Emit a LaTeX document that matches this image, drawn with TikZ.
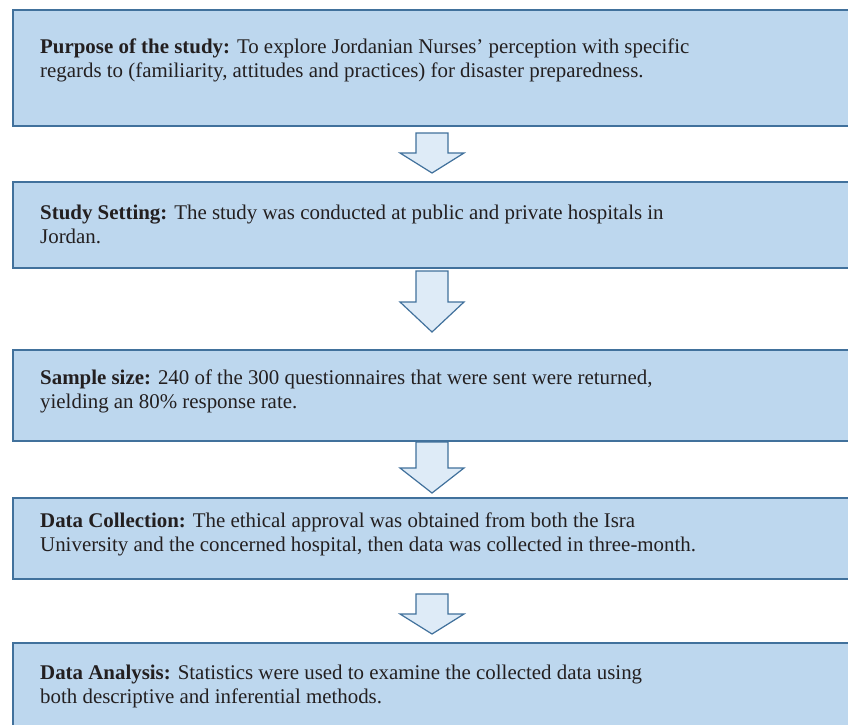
\documentclass[tikz,border=0pt]{standalone}
\usepackage{fontspec}
\setmainfont{Liberation Serif}
\definecolor{boxfill}{HTML}{BDD7EE}
\definecolor{boxline}{HTML}{41719C}
\definecolor{arrfill}{HTML}{DEEBF7}
\definecolor{txtcol}{HTML}{231F20}
\tikzset{
  stagebox/.style={draw=boxline, fill=boxfill, line width=1.5pt, rectangle, inner sep=0pt, anchor=north west, minimum width=845pt},
  stagetext/.style={text=txtcol, align=left, anchor=west, inner sep=0pt, font=\fontsize{20.9}{24}\selectfont},
  blockarrow/.style={draw=boxline, fill=arrfill, line width=1.2pt, line join=miter}
}
% #1 top y, #2 shoulder y, #3 tip y
\newcommand\downblockarrow[3]{%
  \draw[blockarrow] (416,#1) -- (448,#1) -- (448,#2) -- (464,#2) -- (432,#3) -- (400,#2) -- (416,#2) -- cycle;}
\begin{document}
\begin{tikzpicture}[x=1pt,y=-1pt]
\useasboundingbox (0,0) rectangle (848,724);
\clip (0,0) rectangle (848,724);
\fill[white] (0,0) rectangle (848,724);
% boxes
\node[stagebox, minimum height=116pt] (b1) at (12,9) {};
\node[stagebox, minimum height=86pt] (b2) at (12,181) {};
\node[stagebox, minimum height=91pt] (b3) at (12,349) {};
\node[stagebox, minimum height=81pt] (b4) at (12,497) {};
\node[stagebox, minimum height=100pt] (b5) at (12,642) {};
% texts
\node[stagetext] (t1) at (40,60) {\textbf{Purpose of the study:} To explore Jordanian Nurses’ perception with specific\\regards to (familiarity, attitudes and practices) for disaster preparedness.};
\node[stagetext] (t2) at (40,224) {\textbf{Study Setting:} The study was conducted at public and private hospitals in\\Jordan.};
\node[stagetext] (t3) at (40,391) {\textbf{Sample size:} 240 of the 300 questionnaires that were sent were returned,\\yielding an 80\% response rate.};
\node[stagetext] (t4) at (40,534) {\textbf{Data Collection:} The ethical approval was obtained from both the Isra\\University and the concerned hospital, then data was collected in three-month.};
\node[stagetext] (t5) at (40,686) {\textbf{Data Analysis:} Statistics were used to examine the collected data using\\both descriptive and inferential methods.};
% block arrows between the stages
\downblockarrow{133}{153}{173}
\downblockarrow{271}{302}{332}
\downblockarrow{442}{468}{493}
\downblockarrow{594}{614}{634}
\end{tikzpicture}
\end{document}
